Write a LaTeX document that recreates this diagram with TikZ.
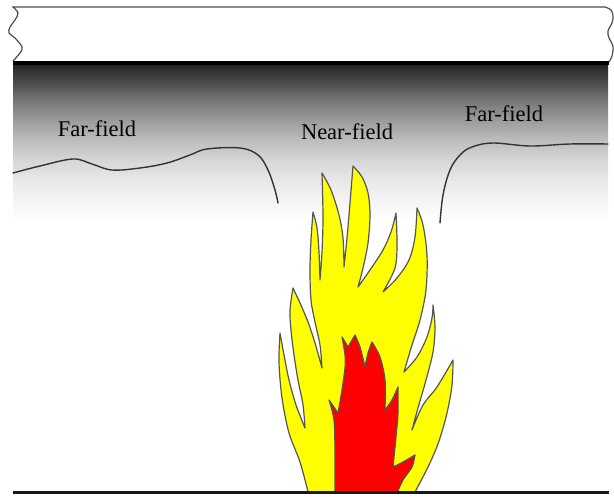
\documentclass[tikz,border=0pt]{standalone}
\usepackage{fontspec}
\setmainfont{Liberation Serif}
% smoke layer under the ceiling: dark at the top, fading to white
\pgfdeclareverticalshading{smokelayer}{100bp}{%
  color(0bp)=(white); color(25bp)=(white);
  color(31.4bp)=(black!4); color(37.8bp)=(black!9);
  color(44.2bp)=(black!16); color(50.6bp)=(black!26);
  color(57bp)=(black!39); color(63.5bp)=(black!54);
  color(68.3bp)=(black!68); color(73.1bp)=(black!81);
  color(75bp)=(black!87); color(100bp)=(black!87)}
\definecolor{flameyellow}{RGB}{255,255,0}
\definecolor{flamered}{RGB}{255,0,0}
\definecolor{edgegray}{RGB}{85,85,85}
\tikzset{
  outline/.style={draw=edgegray, line width=1.2pt, line join=round},
  boundary/.style={draw=black!80, line width=1.4pt, line cap=round},
  label/.style={anchor=base, font=\fontsize{22.5}{27}\selectfont, text=black, inner sep=0pt},
}
\begin{document}
\begin{tikzpicture}[x=1pt, y=-1pt]
\useasboundingbox (0,0) rectangle (614,497);

% smoke layer
\shade[shading=smokelayer] (13,64) rectangle (608,220);

% ceiling slab with broken-off ends
\filldraw[fill=white, draw=black!70, line width=1.2pt]
  plot[smooth, tension=0.6] coordinates {(13,61) (20,53) (22,47) (15,38) (9,33) (10,27) (15,20) (18,13) (13,7)}
  -- (605,7)
  -- plot[smooth, tension=0.6] coordinates {(605,7) (611,10) (613,16) (612,23) (608,31) (609,38) (613,46) (612,56) (609,62)};
\coordinate (ceilL) at (13,63);
\coordinate (ceilR) at (609,63);
\draw[line width=4pt, black] (ceilL) -- (ceilR);

% smoke layer boundaries
\draw[boundary] plot[smooth, tension=0.6] coordinates {(13,173) (40,166) (73,159) (92,164) (112,170) (140,168) (167,163) (190,155) (207,149) (240,148) (258,155) (268,170) (275,190) (278,203)};
\draw[boundary] plot[smooth, tension=0.6] coordinates {(440,223) (443,195) (450,170) (460,155) (472,147) (493,143) (530,146) (570,144) (608,144)};

% labels
\node[label] (farL) at (97,137) {Far-field};
\node[label] (near) at (347,140) {Near-field};
\node[label] (farR) at (504,122) {Far-field};

% outer yellow flame
\filldraw[outline, fill=flameyellow]
  plot[smooth, tension=0.55] coordinates {(308,492) (300,462) (289,433) (282,398) (279,362) (280,333)}
  -- plot[smooth, tension=0.55] coordinates {(280,333) (284,355) (289,380) (296,405) (305,428)}
  -- plot[smooth, tension=0.55] coordinates {(305,428) (303,405) (298,380) (294,355) (291,330) (290,310) (293,288)}
  -- plot[smooth, tension=0.55] coordinates {(293,288) (300,303) (308,322) (315,343) (322,368)}
  -- plot[smooth, tension=0.55] coordinates {(322,368) (320,345) (315,322) (311,300) (310,270) (311,240) (313,212)}
  -- plot[smooth, tension=0.55] coordinates {(313,212) (317,228) (319,252) (320,280)}
  -- plot[smooth, tension=0.55] coordinates {(320,280) (322,252) (323,217) (322,173)}
  -- plot[smooth, tension=0.55] coordinates {(322,173) (331,190) (339,215) (343,238) (344,267)}
  -- plot[smooth, tension=0.55] coordinates {(344,267) (347,238) (350,203) (353,166)}
  -- plot[smooth, tension=0.55] coordinates {(353,166) (362,177) (368,193) (370,215) (368,243) (363,268) (358,287)}
  -- plot[smooth, tension=0.55] coordinates {(358,287) (370,270) (383,250) (391,232) (396,213)}
  -- plot[smooth, tension=0.55] coordinates {(396,213) (397,243) (395,268) (383,292)}
  -- plot[smooth, tension=0.55] coordinates {(383,292) (397,278) (409,260) (415,237) (417,208)}
  -- plot[smooth, tension=0.55] coordinates {(417,208) (423,225) (427,255) (426,290) (420,320) (412,345) (404,372)}
  -- plot[smooth, tension=0.55] coordinates {(404,372) (417,357) (427,337) (432,318) (433,305)}
  -- plot[smooth, tension=0.55] coordinates {(433,305) (435,327) (433,352) (426,380) (418,408) (412,430)}
  -- plot[smooth, tension=0.55] coordinates {(412,430) (423,405) (437,387) (453,360)}
  -- plot[smooth, tension=0.55] coordinates {(453,360) (452,385) (447,413) (439,441) (429,465) (415,492)}
  -- cycle;

% inner red flame
\filldraw[outline, fill=flamered]
  plot[smooth, tension=0.5] coordinates {(335,493) (335,453) (334,420) (329,400)}
  -- (338,413)
  -- plot[smooth, tension=0.5] coordinates {(338,413) (342,390) (345,368) (345,355) (342,337)}
  -- (348,347) -- (355,335)
  -- plot[smooth, tension=0.5] coordinates {(355,335) (360,347) (365,367)}
  -- plot[smooth, tension=0.5] coordinates {(365,367) (368,353) (372,342)}
  -- plot[smooth, tension=0.5] coordinates {(372,342) (380,357) (385,380) (385,410)}
  -- plot[smooth, tension=0.5] coordinates {(385,410) (392,400) (398,387)}
  -- plot[smooth, tension=0.5] coordinates {(398,387) (398,413) (396,437) (393,467)}
  -- plot[smooth, tension=0.5] coordinates {(393,467) (403,462) (415,455)}
  -- plot[smooth, tension=0.5] coordinates {(415,455) (412,467) (403,480) (397,493)}
  -- cycle;

% floor
\coordinate (floorL) at (13,492);
\coordinate (floorR) at (609,492);
\draw[line width=3pt, black!90] (floorL) -- (floorR);
\end{tikzpicture}
\end{document}
